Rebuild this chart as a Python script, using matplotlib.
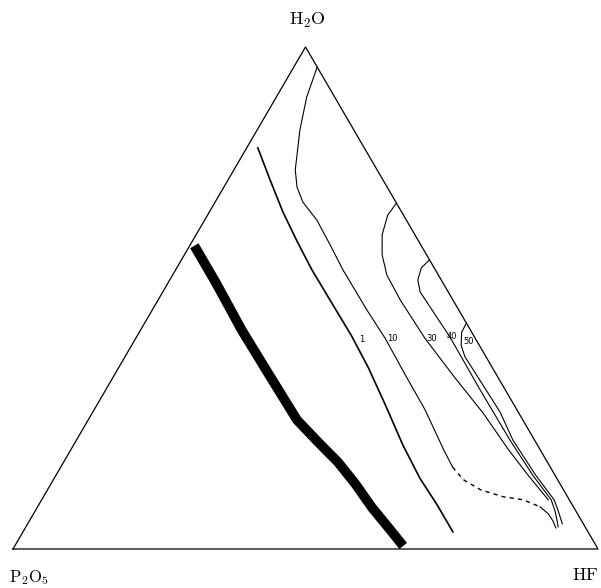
import numpy as np
import matplotlib.pyplot as plt

plt.rcParams['mathtext.fontset'] = 'cm'

# Compositions, in wt% (HF, H2O); P2O5 is the rest
band_hf = [0.8, 8.2, 17.3, 25.4, 35.7, 41.5, 46.9, 52.0, 57.3, 62.6, 66.4]
band_h2o = [60.4, 53.0, 43.6, 35.7, 25.7, 21.3, 17.3, 13.0, 8.2, 3.8, 0.6]

c1_hf = [1.9, 7.2, 12.6, 18.0, 23.3, 30.4, 36.7, 42.7, 49.3, 56.3, 62.5, 68.1, 73.5]
c1_h2o = [79.9, 73.5, 67.1, 61.2, 55.6, 48.6, 42.4, 36.1, 28.7, 20.7, 14.1, 8.8, 3.4]

c10_hf = [4.0, 5.2, 7.3, 10.5, 12.5, 15.0, 19.2, 23.9, 28.6, 36.7, 42.6, 49.7, 56.6, 63.8, 67.0]
c10_h2o = [96.0, 90.0, 83.5, 75.5, 72.1, 69.1, 65.5, 60.6, 55.6, 47.6, 42.0, 34.7, 27.7, 19.7, 16.3]

# dashed continuation of the 10 curve, then its short solid tail
c10d_hf = [67.0, 70.1, 74.0, 78.6, 82.3, 85.9]
c10d_h2o = [16.3, 13.8, 11.8, 10.4, 9.8, 8.4]
c10t_hf = [85.9, 88.0, 89.5, 90.7]
c10t_h2o = [8.4, 7.0, 5.6, 4.2]

c30_hf = [31.1, 30.8, 31.8, 33.8, 36.6, 41.4, 49.4, 58.5, 66.8, 74.9, 80.7, 86.6]
c30_h2o = [68.9, 66.5, 62.6, 58.6, 54.6, 49.6, 42.0, 34.1, 27.1, 19.7, 14.7, 9.8]

c40_hf = [42.4, 41.8, 42.4, 44.0, 47.2, 53.6, 64.0, 74.1, 81.5, 87.1, 89.0, 91.0]
c40_h2o = [57.6, 56.0, 53.6, 51.2, 48.2, 42.2, 31.7, 21.7, 14.7, 9.8, 7.4, 4.4]

c50_hf = [55.0, 55.1, 56.3, 58.1, 62.5, 69.6, 74.6, 82.0, 87.6, 89.4, 91.4]
c50_h2o = [45.0, 43.2, 40.6, 38.3, 34.1, 27.3, 21.7, 14.7, 9.8, 7.6, 5.0]

labels = ['1', '10', '30', '40', '50']
label_hf = [38.7, 43.8, 50.6, 53.8, 57.2]
label_h2o = [41.8, 42.0, 42.0, 42.4, 41.4]

H = np.sqrt(3) / 2


def tern(hf, h2o):
    hf = np.asarray(hf) / 100.0
    h2o = np.asarray(h2o) / 100.0
    return hf + h2o / 2, h2o * H


fig = plt.figure(figsize=(6.01, 5.88), dpi=100)
ax = fig.add_axes([0, 0, 1, 1])
ax.set_xlim(-13 / 585, 588 / 585)
ax.set_ylim(-39 / 579.7, 549 / 579.7)
ax.axis('off')

# triangle frame
tx, ty = tern([0, 100, 0, 0], [0, 0, 100, 0])
ax.plot(tx, ty, color='black', lw=0.9)

# thick band
x, y = tern(band_hf, band_h2o)
ax.plot(x, y, color='black', lw=7, solid_capstyle='butt', solid_joinstyle='round')

x, y = tern(c1_hf, c1_h2o)
ax.plot(x, y, color='black', lw=1.2, solid_joinstyle='round')

for hf, h2o in [(c10_hf, c10_h2o), (c10t_hf, c10t_h2o), (c30_hf, c30_h2o),
                (c40_hf, c40_h2o), (c50_hf, c50_h2o)]:
    x, y = tern(hf, h2o)
    ax.plot(x, y, color='black', lw=0.8, solid_joinstyle='round')

x, y = tern(c10d_hf, c10d_h2o)
ax.plot(x, y, color='black', lw=1.0, ls=(0, (3, 3)))

for lab, hf, h2o in zip(labels, label_hf, label_h2o):
    x, y = tern(hf, h2o)
    ax.text(x, y, lab, fontsize=6, ha='center', va='center')

# vertex labels
ax.text(0.504, 0.911, r'$\mathrm{H_2O}$', fontsize=13, ha='center', va='center')
ax.text(0.027, -0.050, r'$\mathrm{P_2O_5}$', fontsize=12, ha='center', va='center')
ax.text(0.979, -0.045, r'$\mathrm{HF}$', fontsize=13, ha='center', va='center', clip_on=False)

fig.savefig('out.png', dpi=100)
